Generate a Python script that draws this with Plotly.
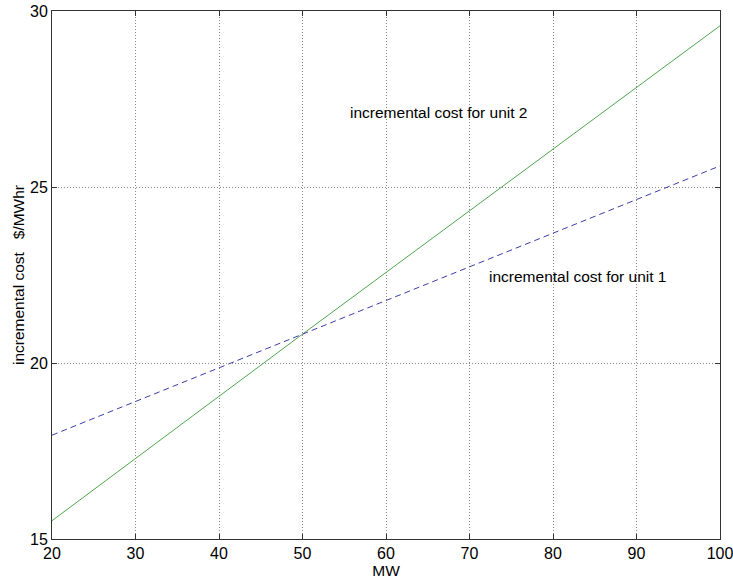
import plotly.graph_objects as go

# Data
mw = [20, 50, 100]
unit1_cost = [17.95, 20.82, 25.6]
unit2_cost = [15.52, 20.82, 29.58]

x_ticks = [20, 30, 40, 50, 60, 70, 80, 90, 100]
y_ticks = [15, 20, 25, 30]

label_unit2 = "incremental cost for unit 2"
label_unit1 = "incremental cost for unit 1"
label_pos_unit2 = (55.4, 27.12)
label_pos_unit1 = (72.1, 22.47)

FONT = "Liberation Sans, Arial, sans-serif"

fig = go.Figure()
fig.add_trace(go.Scatter(x=mw, y=unit2_cost, mode="lines",
                         line=dict(color="rgb(80,165,80)", width=1),
                         showlegend=False))
fig.add_trace(go.Scatter(x=mw, y=unit1_cost, mode="lines",
                         line=dict(color="rgb(60,60,170)", width=1, dash="6px,4px"),
                         showlegend=False))

fig.add_annotation(x=label_pos_unit2[0], y=label_pos_unit2[1], text=label_unit2,
                   showarrow=False, xanchor="left", yanchor="middle",
                   font=dict(family=FONT, size=15.5, color="black"))
fig.add_annotation(x=label_pos_unit1[0], y=label_pos_unit1[1], text=label_unit1,
                   showarrow=False, xanchor="left", yanchor="middle",
                   font=dict(family=FONT, size=15.5, color="black"))

axis_common = dict(showline=True, linecolor="#333", linewidth=1, mirror="ticks",
                   ticks="inside", ticklen=5, tickcolor="#333",
                   showgrid=True, gridcolor="#888", gridwidth=1, griddash="1px,2px",
                   zeroline=False, automargin=False, ticklabeloverflow="allow",
                   tickfont=dict(family=FONT, size=16, color="black"))

fig.update_xaxes(range=[20, 100], tickvals=x_ticks, ticktext=[str(v) for v in x_ticks],
                 title=dict(text="MW", font=dict(family=FONT, size=15.5, color="black"), standoff=0),
                 **axis_common)
fig.update_yaxes(range=[15, 30], tickvals=y_ticks, ticktext=[str(v) for v in y_ticks],
                 title=dict(text="incremental cost &nbsp;&nbsp;$/MWhr",
                            font=dict(family=FONT, size=15.5, color="black"), standoff=1),
                 **axis_common)

fig.update_layout(width=733, height=579,
                  margin=dict(l=52, r=13, t=11, b=40, autoexpand=False),
                  plot_bgcolor="white", paper_bgcolor="white")

fig.write_html("out.html")
